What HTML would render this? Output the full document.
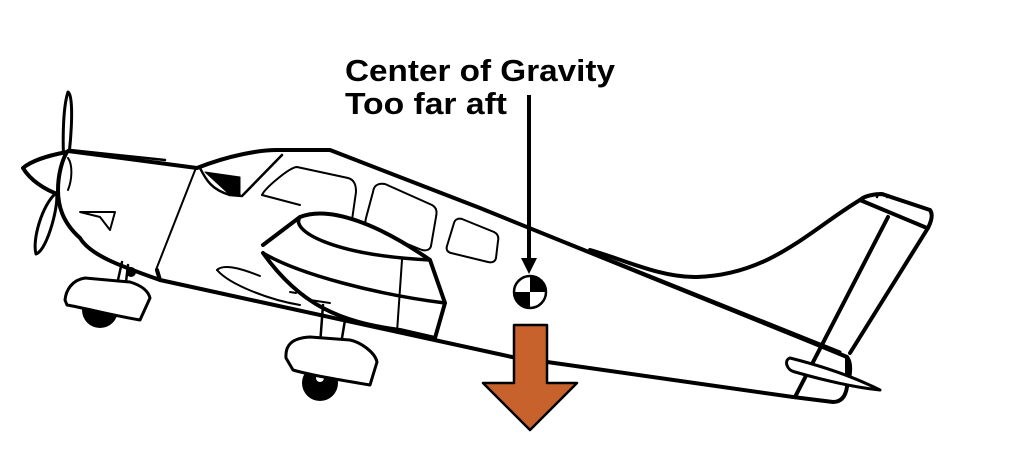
<!DOCTYPE html>
<html><head><style>
html,body{margin:0;padding:0;background:#fff;}
svg{display:block;}
</style></head><body>
<svg width="1024" height="457" viewBox="0 0 1024 457" xmlns="http://www.w3.org/2000/svg">
<rect width="1024" height="457" fill="#fff"/>
<g fill="none" stroke="#000" stroke-width="4" stroke-linejoin="round" stroke-linecap="round">
<!-- propeller -->
<path d="M68,92 C74,95 72,140 66,175 C62,160 62,110 68,92 Z" stroke-width="3"/>
<path d="M56,193 C60,200 48,250 36,254 C32,240 42,205 56,193 Z" stroke-width="3"/>
<!-- spinner -->
<path d="M67,152 C45,156 30,162 23,168 C30,180 45,190 60,195" fill="#fff"/>
<!-- cowling -->
<path d="M67,152 L68,151 L197,168 L157,270 L160,280 C120,266 90,255 80,238 C62,222 58,205 58,190 C58,175 62,160 67,152 Z" fill="#fff"/>
<path d="M70,150 L165,160" stroke-width="2.5"/>
<path d="M80,212 L115,212 L110,230 L100,217 Z" stroke-width="2"/>
<path d="M68,158 C73,165 72,180 68,190" stroke-width="2"/>
<!-- fuselage -->
<path d="M197,168 C230,155 260,150 277,150 L330,150 L480,208 L813,343 L847,357 L847,387 C845,400 838,402 833,402 L793,397 L512,357 L160,280 L157,270" fill="#fff"/>
<!-- windscreen -->
<path d="M200,168 C206,180 212,190 230,195 L242,196 L282,155" stroke-width="2.5"/>
<path d="M205,172 L240,177 L240,195 L230,195 Z" fill="#000" stroke-width="1"/>
<!-- windows -->
<path d="M262,195 C265,188 290,167 297,167 L348,178 C355,180 356,186 356,192 L352,220" stroke-width="2"/>
<path d="M262,195 L300,205" stroke-width="2"/>
<path d="M373,192 C374,185 378,183 385,184 L432,205 C437,208 437,212 436,217 L431,246 C430,250 426,251 422,250 L368,228 C365,226 365,222 366,218 Z" stroke-width="2"/>
<path d="M454,223 C455,219 459,218 462,219 L494,232 C498,234 499,237 498,241 L496,258 C495,262 492,263 488,262 L451,253 C447,252 446,249 447,246 Z" stroke-width="2"/>
<!-- wing -->
<path d="M263,245 L300,217 C330,205 380,225 430,260 L445,303 L435,338 L400,330 C340,322 300,305 263,253" fill="#fff"/>
<path d="M300,217 C290,230 330,255 430,260" stroke-width="3.5"/>
<path d="M263,253 C300,275 380,295 445,303" stroke-width="3.5"/>
<path d="M402,260 L397,332" stroke-width="2"/>
<path d="M217,270 C225,262 250,272 260,276" stroke-width="2"/>
<path d="M217,270 C230,285 270,300 300,305" stroke-width="2"/>
<path d="M290,292 L296,293 M310,300 L330,303" stroke-width="2"/>
<path d="M480,208 L840,352" stroke-width="3"/>
<!-- tail fin -->
<path d="M590,250 C620,258 660,278 697,277 C770,275 810,230 860,200" />
<path d="M860,200 C865,195 880,193 885,195 L930,210 C933,214 932,220 928,228 L850,353" fill="#fff"/>
<path d="M860,200 L927,228" />
<path d="M888,217 L795,397" />
<path d="M877,197 C878,192 884,192 887,197" stroke-width="2.5"/>
<path d="M847,357 C852,363 850,375 848,385"/>
<!-- horizontal stab -->
<path d="M790,358 C784,360 786,370 795,372 C830,382 860,388 880,390 C860,380 830,368 790,358 Z" fill="#fff" stroke-width="3"/>
<!-- main gear -->
<path d="M323,305 L320,345 M345,320 L340,350" stroke-width="2.5"/>
<circle cx="320" cy="383" r="18" fill="#000" stroke="none"/>
<circle cx="320" cy="378" r="4" fill="#fff" stroke="none"/>
<path d="M286,358 C285,345 292,338 310,337 L350,340 C360,342 375,352 377,362 L370,385 C340,380 310,375 293,370 Z" fill="#fff" stroke-width="3"/>
<!-- nose gear -->
<path d="M122,262 L118,280 M128,265 L126,282" stroke-width="2.5"/>
<circle cx="131" cy="272" r="5" fill="#000" stroke="none"/>
<circle cx="100" cy="310" r="18" fill="#000" stroke="none"/>
<circle cx="100" cy="305" r="4" fill="#fff" stroke="none"/>
<path d="M65,300 C66,290 72,280 85,278 L130,282 C140,285 148,290 150,298 L140,320 C110,315 85,308 67,305 Z" fill="#fff" stroke-width="3"/>
</g>
<!-- CG arrow -->
<line x1="529" y1="95" x2="529" y2="260" stroke="#000" stroke-width="4"/>
<polygon points="521,258 537,258 529,274" fill="#000"/>
<circle cx="530" cy="292" r="16" fill="#fff" stroke="#000" stroke-width="2.5"/>
<path d="M530,292 L530,276 A16,16 0 0 1 546,292 Z" fill="#000"/>
<path d="M530,292 L530,308 A16,16 0 0 1 514,292 Z" fill="#000"/>
<!-- weight arrow -->
<polygon points="514,325 547,325 547,383 577,383 530,430 483,383 514,383" fill="#c8622d" stroke="#000" stroke-width="2.5" stroke-linejoin="round"/>
<text x="345" y="81" font-family="Liberation Sans, sans-serif" font-weight="bold" font-size="31" fill="#000" textLength="270" lengthAdjust="spacingAndGlyphs">Center of Gravity</text>
<text x="345" y="114" font-family="Liberation Sans, sans-serif" font-weight="bold" font-size="31" fill="#000" textLength="162" lengthAdjust="spacingAndGlyphs">Too far aft</text>
</svg>
</body></html>
